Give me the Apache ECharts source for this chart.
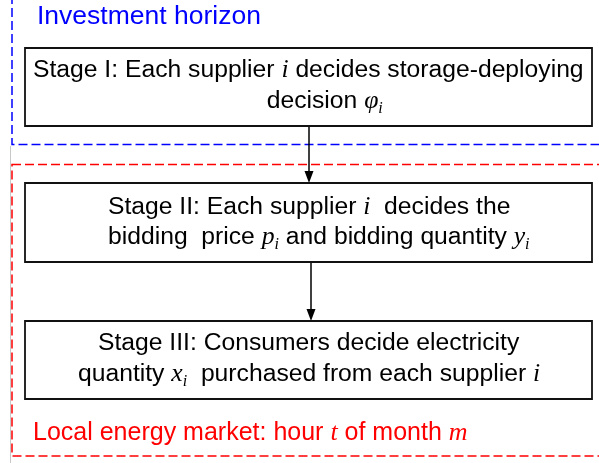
<!DOCTYPE html>
<html>
<head>
<meta charset="utf-8">
<style>html,body{margin:0;padding:0;background:#fff;}#main{width:599px;height:463px;}</style>
<script src="https://cdn.jsdelivr.net/npm/echarts@6/dist/echarts.min.js"></script>
</head>
<body>
<div id="main"></div>
<script>
// ---- content ----
const regionLabels = ['Investment horizon', 'Local energy market: hour {v|t} of month {v|m}'];
const stage1Lines = ['Stage I: Each supplier {v|i} decides storage-deploying', 'decision {v|φ}{s|i}'];
const stage2Lines = ['Stage II: Each supplier {v|i}  decides the', 'bidding  price {v|p}{s|i} and bidding quantity {v|y}{s|i}'];
const stage3Lines = ['Stage III: Consumers decide electricity', 'quantity {v|x}{s|i}  purchased from each supplier {v|i}'];
const stages = [stage1Lines, stage2Lines, stage3Lines];

// ---- layout ----
const boxX = 25, boxW = 567;
const boxY = [48, 183, 321];
const boxH = [78, 79, 78];
const lineCenters = [[70.4, 101.4], [207.4, 237.4], [343.4, 374.4]];
const lineLeft = [[33, 266.7], [108, 108], [98, 78]];
const arrowX = [309, 311];

function richFor(color, size) {
  return {
    n: {fontFamily: 'Liberation Sans', fontSize: size, fill: color, lineHeight: 30},
    v: {fontFamily: 'Liberation Serif', fontStyle: 'italic', fontSize: size + 1, fill: color, lineHeight: 30},
    s: {fontFamily: 'Liberation Serif', fontStyle: 'italic', fontSize: 16, fill: color, lineHeight: 30, padding: [14, 0, 0, 0]}
  };
}
function wrapN(t) {
  const parts = [];
  const re = /\{(\w)\|([^}]*)\}/g;
  let last = 0, m;
  while ((m = re.exec(t))) {
    if (m.index > last) parts.push('{n|' + t.slice(last, m.index) + '}');
    parts.push(m[0]);
    last = re.lastIndex;
  }
  if (last < t.length) parts.push('{n|' + t.slice(last) + '}');
  return parts.join('');
}

const elements = [];
elements.push({type: 'line', shape: {x1: 10.5, y1: 146, x2: 10.5, y2: 463}, style: {stroke: '#c8c8c8', lineWidth: 1}, silent: true});
elements.push({type: 'rect', shape: {x: 12, y: -10, width: 600, height: 154.5}, style: {fill: 'none', stroke: '#0000ff', lineWidth: 1.5, lineDash: [9, 4]}});
elements.push({type: 'rect', shape: {x: 12, y: 164.5, width: 600, height: 291.5}, style: {fill: 'none', stroke: '#ff0000', lineWidth: 1.5, lineDash: [9, 4]}});

for (let k = 0; k < 2; k++) {
  const y1 = boxY[k] + boxH[k];
  const y2 = boxY[k + 1];
  elements.push({type: 'line', shape: {x1: arrowX[k], y1: y1, x2: arrowX[k], y2: y2 - 10}, style: {stroke: '#000', lineWidth: 1.5}});
  elements.push({type: 'polygon', shape: {points: [[arrowX[k] - 4.5, y2 - 12], [arrowX[k] + 4.5, y2 - 12], [arrowX[k], y2]]}, style: {fill: '#000'}});
}

stages.forEach((lines, i) => {
  elements.push({type: 'rect', shape: {x: boxX, y: boxY[i], width: boxW, height: boxH[i]}, style: {fill: '#fff', stroke: '#111', lineWidth: 1.8}});
  lines.forEach((ln, j) => {
    elements.push({type: 'text', x: lineLeft[i][j], y: lineCenters[i][j],
      style: {text: wrapN(ln), rich: richFor('#000', 24.7), fill: '#000', align: 'left', verticalAlign: 'middle'}});
  });
});

elements.push({type: 'text', x: 37, y: 16.8, style: {text: wrapN(regionLabels[0]), rich: richFor('#0000ff', 26.5), fill: '#0000ff', align: 'left', verticalAlign: 'middle'}});
elements.push({type: 'text', x: 33, y: 433, style: {text: wrapN(regionLabels[1]), rich: richFor('#ff0000', 25), fill: '#ff0000', align: 'left', verticalAlign: 'middle'}});

const chart = echarts.init(document.getElementById('main'), null, {renderer: 'canvas'});
chart.setOption({
  backgroundColor: '#ffffff',
  animation: false,
  graphic: {elements: elements}
});
</script>
</body>
</html>
